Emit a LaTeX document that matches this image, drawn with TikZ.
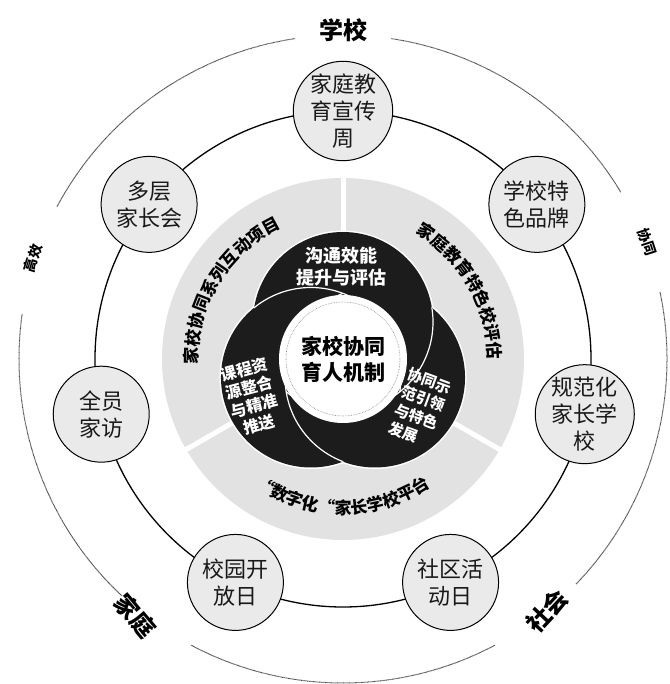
\documentclass[tikz,border=0pt]{standalone}
\usepackage{fontspec}
\usepackage{tikz}
\usetikzlibrary{positioning, decorations.text}
\newfontfamily\cjk{Noto Sans CJK SC}
\definecolor{cRing}{RGB}{234,234,234}
\definecolor{cBand}{RGB}{226,226,226}
\definecolor{cDark}{RGB}{28,28,28}
\definecolor{cEdge}{RGB}{70,70,70}
\newcommand{\bandfont}{\cjk\bfseries\fontsize{17}{17}\selectfont}
\tikzset{
    ringnode/.style ={circle, draw=black, line width=1pt, fill=cRing, minimum size=96pt, inner sep=0pt, align=center, text=black!90, font=\cjk\fontsize{22}{27}\selectfont},
    petaltext/.style={text=white, align=center, font=\cjk\bfseries\fontsize{16}{19}\selectfont},
    hubnode/.style  ={circle, fill=white, minimum size=128pt, inner sep=0pt, align=center, font=\cjk\bfseries\fontsize{21}{26}\selectfont},
    sidebig/.style  ={font=\cjk\bfseries\fontsize{24}{24}\selectfont},
    sidesmall/.style={font=\cjk\bfseries\fontsize{14}{14}\selectfont},
    outerarc/.style ={draw=cEdge, line width=1pt, dash pattern=on 0.7pt off 0.5pt},
}

\begin{document}
\begin{tikzpicture}[x=1pt, y=1pt]
    \useasboundingbox (-343,-325) rectangle (326,359);
    % outer dotted ring with gaps for the labels
    \foreach \s/\e in {31/81.5, 98.5/152, 172/227, 242/298, 316/372}
        \draw[outerarc] (\s:324) arc[start angle=\s, end angle=\e, radius=324];
    \node[sidebig] (school) at (0,329) {学校};
    \node[sidebig, rotate=-50] (family) at (231:330) {家庭};
    \node[sidebig, rotate=47] (society) at (-51:324) {社会};
    \node[sidesmall, rotate=73] (effic) at (162:326) {高效};
    \node[sidesmall, rotate=-72] (synergy) at (21:326) {协同};

    % middle ring
    \draw[black, line width=1.3pt] (0,0) circle[radius=248];

    % grey band
    \fill[cBand] (0,0) circle[radius=181];
    \foreach \a in {90,210,330}
        \draw[white, line width=5pt] (0,0) -- (\a:186);
    \path[decorate, decoration={text along path, text align=center, text={|\bandfont|家校协同系列互动项目}}]
        (214.5:145) arc[start angle=214.5, end angle=82.5, radius=145];
    \path[decorate, decoration={text along path, text align=center, text={|\bandfont|家庭教育特色校评估}}]
        (96:145) arc[start angle=96, end angle=-36, radius=145];
    \path[decorate, decoration={text along path, text align=center, text={|\bandfont|“数字化“家长学校平台}}]
        (200:155) arc[start angle=200, end angle=340, radius=155];

    % three petals
    \foreach \a in {90,210,330}
        \draw[white, line width=3pt] (\a:37) circle[radius=90];
    \foreach \a in {90,210,330}
        \fill[cDark] (\a:37) circle[radius=90];
    \foreach \over/\under in {210/90, 90/330, 330/210} {
        \begin{scope}
            \clip (\under:37) circle[radius=90];
            \draw[white, line width=1.2pt] (\over:37) circle[radius=90];
        \end{scope}
    }
    \node[petaltext, font=\cjk\bfseries\fontsize{18}{22}\selectfont] (talk) at (-2,92) {沟通效能\\提升与评估};
    \node[petaltext, rotate=15] (course) at (-91,-38) {课程资\\源整合\\与精准\\推送};
    \node[petaltext, rotate=-20, align=left, font=\cjk\bfseries\fontsize{15}{19}\selectfont] (demo) at (77,-49) {协同示\\范引领\\与特色\\发展};

    % centre
    \node[hubnode] (hub) at (0,0) {家校协同\\育人机制};
    \draw[gray, line width=0.6pt, densely dotted] (hub.center) circle[radius=57];

    % activities on the ring
    \foreach \nm/\txt [count=\i from 0] in {week/{家庭教\\育宣传\\周}, brand/{学校特\\色品牌}, normschool/{规范化\\家长学\\校}, community/{社区活\\动日}, openday/{校园开\\放日}, visit/{全员\\家访}, meeting/{多层\\家长会}}
        \node[ringnode] (\nm) at ({90-\i*360/7}:248) {\txt};
\end{tikzpicture}
\end{document}
